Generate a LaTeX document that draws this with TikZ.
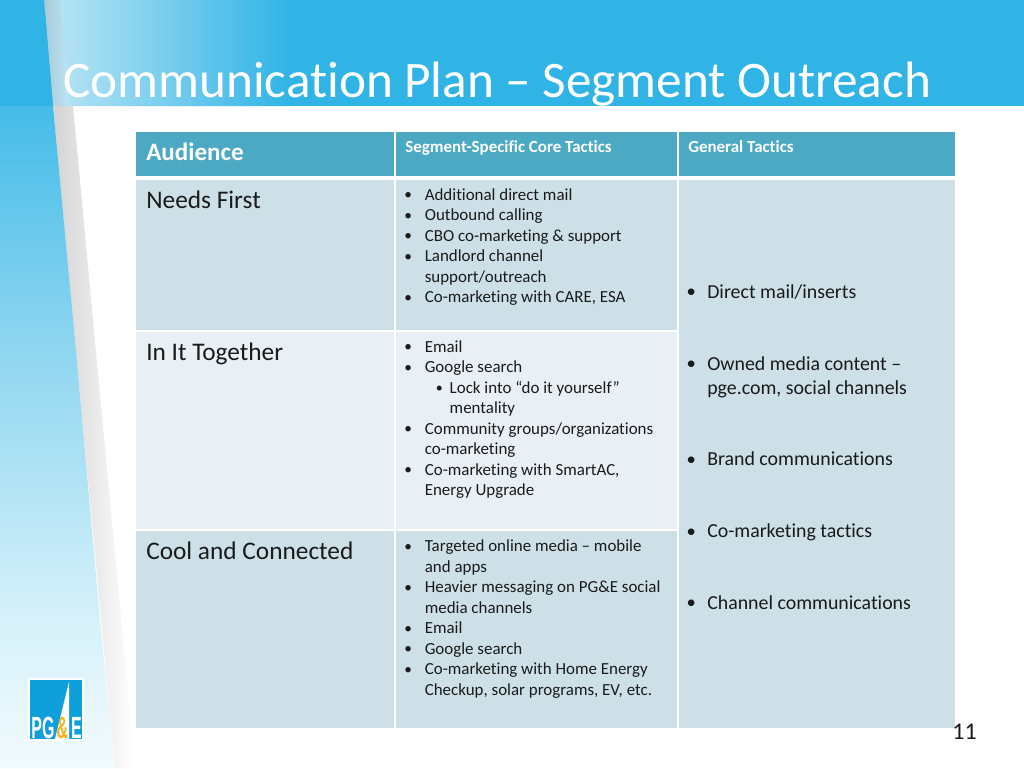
\documentclass[tikz,border=0pt]{standalone}
\usepackage{fontspec}
\setmainfont[RawFeature={-liga;-clig}]{Carlito}
\newfontfamily\logofont{Liberation Sans}
\definecolor{band}{HTML}{30B4E6}
\definecolor{bandlight}{HTML}{BDE6F5}
\definecolor{stripmid}{HTML}{8FD6F0}
\definecolor{strippale}{HTML}{D6F1FA}
\definecolor{stripend}{HTML}{F2FBFE}
\definecolor{headcell}{HTML}{4BA9C4}
\definecolor{darkcell}{HTML}{CDE0E8}
\definecolor{lightcell}{HTML}{E8EFF5}
\definecolor{logoblue}{HTML}{0F9FDB}
\definecolor{logogold}{HTML}{F5B21B}
\definecolor{inktext}{HTML}{1A1A1A}
\newcommand{\pxfont}[2]{\fontsize{#1pt}{#2pt}\selectfont}
\newcommand{\dotat}[4]{\makebox[#2][l]{\hspace*{#1}\makebox[0pt]{\raisebox{#4}{\fontsize{#3}{#3}\selectfont•}}}}
% list column: bullet centre 3pt, text 15.4pt from the node's left edge
\newcommand{\bu}{\dotat{3pt}{15.4pt}{11.5}{.3pt}}
\newcommand{\cont}{\hspace*{15.4pt}}
% general column
\newcommand{\gu}{\dotat{2.25pt}{14.25pt}{14}{.2pt}}
\newcommand{\gcont}{\hspace*{14.25pt}}
\tikzset{
  x=0.75pt,y=-0.75pt,
  cellbox/.style={draw=none,inner sep=0pt,outer sep=0pt,anchor=north west},
  headsmall/.style={anchor=base west,inner sep=0pt,text=white,font=\bfseries\pxfont{12.7}{15}},
  audtext/.style={anchor=base west,inner sep=0pt,text=inktext,font=\pxfont{19}{22}},
  listtext/.style={anchor=north west,inner sep=0pt,text=inktext,align=left,font=\pxfont{12.7}{15.38}},
  gentext/.style={anchor=north west,inner sep=0pt,text=inktext,align=left,font=\pxfont{14.9}{18}},
  logotext/.style={anchor=base,inner sep=0pt,font=\logofont\bfseries\pxfont{23}{24},xscale=.52,transform shape},
}
\begin{document}
\begin{tikzpicture}
\useasboundingbox (0,0) rectangle (1024,768);
\fill[white] (0,0) rectangle (1024,768);
% top band
\fill[band] (0,0) rectangle (1024,106);
\shade[left color=bandlight,right color=band] (45,0) -- (290,0) -- (290,106) -- (54,106) -- cycle;
% shadow of page edge
\shade[left color=black!17,right color=white] (53,106) -- (73,106) -- (135,768) -- (115,768) -- cycle;
\shade[left color=black!12!bandlight,right color=bandlight] (44,0) -- (60,0) -- (70,106) -- (53,106) -- cycle;
% left strip
\fill[band] (0,0) -- (44,0) -- (53,106) -- (0,106) -- cycle;
\shade[top color=band!90!white,bottom color=stripmid] (0,106) -- (53,106) -- (76,350) -- (0,350) -- cycle;
\shade[top color=stripmid,bottom color=strippale] (0,350) -- (76,350) -- (100,620) -- (0,620) -- cycle;
\shade[top color=strippale,bottom color=stripend] (0,620) -- (100,620) -- (115,768) -- (0,768) -- cycle;
% title
\node[anchor=base west,inner sep=0pt,text=white,font=\pxfont{38.4}{40}] (title) at (63,97) {Communication Plan – Segment Outreach};
% table cells
\node[cellbox,fill=headcell,minimum width=258*0.75pt,minimum height=44*0.75pt] (h1) at (136,132) {};
\node[cellbox,fill=headcell,minimum width=281*0.75pt,minimum height=44*0.75pt] (h2) at (396,132) {};
\node[cellbox,fill=headcell,minimum width=276*0.75pt,minimum height=44*0.75pt] (h3) at (679,132) {};
\node[cellbox,fill=darkcell,minimum width=258*0.75pt,minimum height=150*0.75pt] (a1) at (136,180) {};
\node[cellbox,fill=darkcell,minimum width=281*0.75pt,minimum height=150*0.75pt] (b1) at (396,180) {};
\node[cellbox,fill=lightcell,minimum width=258*0.75pt,minimum height=197*0.75pt] (a2) at (136,332) {};
\node[cellbox,fill=lightcell,minimum width=281*0.75pt,minimum height=197*0.75pt] (b2) at (396,332) {};
\node[cellbox,fill=darkcell,minimum width=258*0.75pt,minimum height=197*0.75pt] (a3) at (136,531) {};
\node[cellbox,fill=darkcell,minimum width=281*0.75pt,minimum height=197*0.75pt] (b3) at (396,531) {};
\node[cellbox,fill=darkcell,minimum width=276*0.75pt,minimum height=548*0.75pt] (c1) at (679,180) {};
% header text
\node[anchor=base west,inner sep=0pt,text=white,font=\bfseries\pxfont{18.8}{22}] (t1) at (146,160) {Audience};
\node[headsmall] (t2) at (405,152.5) {Segment-Specific Core Tactics};
\node[headsmall] (t3) at (688,152.5) {General Tactics};
% audience
\node[audtext] (u1) at (146,208) {Needs First};
\node[audtext] (u2) at (146,360) {In It Together};
\node[audtext] (u3) at (146,559) {Cool and Connected};
% lists
\node[listtext] (l1) at (404,188) {\bu Additional direct mail\\\bu Outbound calling\\\bu CBO co-marketing \& support\\\bu Landlord channel\\\cont support/outreach\\\bu Co-marketing with CARE, ESA};
\node[listtext] (l2) at (404,340) {\bu Email\\\bu Google search\\\dotat{26.25pt}{34.1pt}{10.5}{.3pt}Lock into “do it yourself”\\\hspace*{34.1pt}mentality\\\bu Community groups/organizations\\\cont co-marketing\\\bu Co-marketing with SmartAC,\\\cont Energy Upgrade};
\node[listtext] (l3) at (404,539.7) {\bu Targeted online media – mobile\\\cont and apps\\\bu Heavier messaging on PG\&E social\\\cont media channels\\\bu Email\\\bu Google search\\\bu Co-marketing with Home Energy\\\cont Checkup, solar programs, EV, etc.};
% general tactics
\node[gentext] (g1) at (688,284) {\gu Direct mail/inserts};
\node[gentext] (g2) at (688,356) {\gu Owned media content –\\\gcont pge.com, social channels};
\node[gentext] (g3) at (688,451.5) {\gu Brand communications};
\node[gentext] (g4) at (688,523.5) {\gu Co-marketing tactics};
\node[gentext] (g5) at (688,595) {\gu Channel communications};
% page number
\node[anchor=base east,inner sep=0pt,text=inktext,font=\pxfont{18}{20}] (pn) at (977,739) {11};
% logo
\fill[white] (28,678) rectangle (84,741);
\node[cellbox,fill=logoblue,minimum width=52*0.75pt,minimum height=59*0.75pt] (logo) at (30,680) {};
\fill[white] (69,682) -- (69,739) -- (55,739) -- cycle;
\node[logotext,text=white] (lg1) at (43,738) {PG};
\node[logotext,text=logogold] (lg2) at (62.5,738) {\&};
\node[logotext,text=white] (lg3) at (76.5,738) {E};
\end{tikzpicture}
\end{document}
